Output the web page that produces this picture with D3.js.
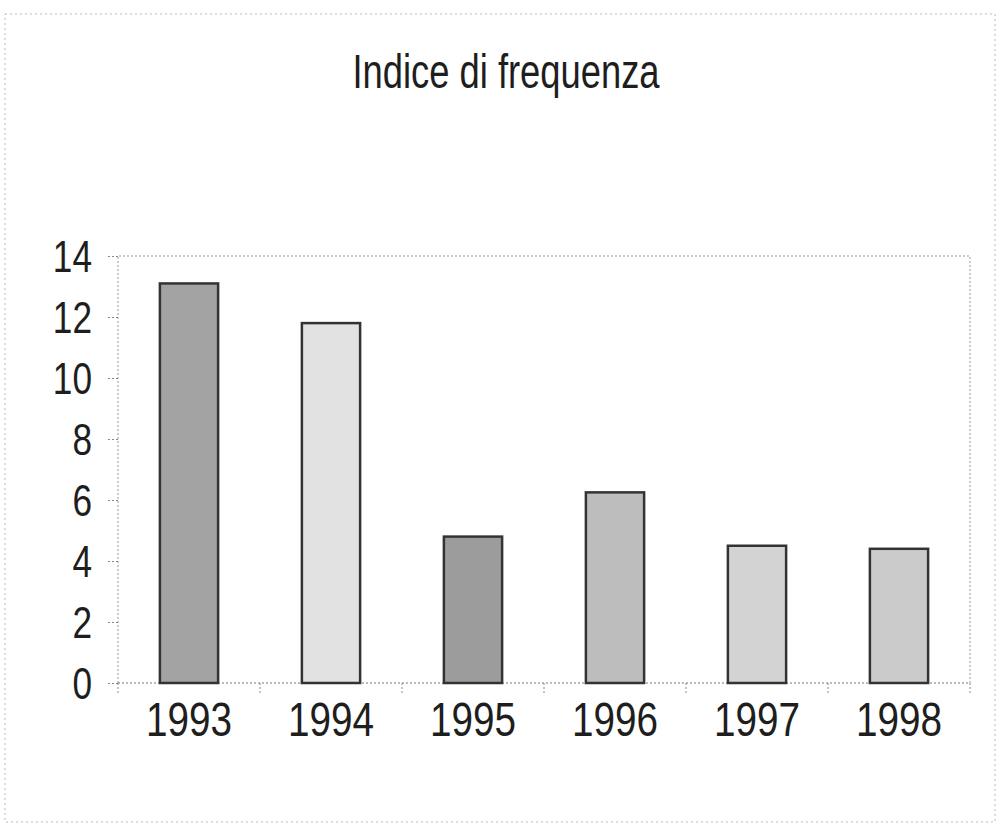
<!DOCTYPE html>
<html>
<head>
<meta charset="utf-8">
<script src="https://cdn.jsdelivr.net/npm/d3@7"></script>
<style>
  body { margin: 0; background: #fff; }
  svg { display: block; }
  text { font-family: "Liberation Sans", Arial, sans-serif; fill: #1e1e1e; }
</style>
</head>
<body>
<div id="chart"></div>
<script>
// dati
const anni = ["1993", "1994", "1995", "1996", "1997", "1998"];
const valori = [13.1, 11.8, 4.8, 6.25, 4.5, 4.4];
const grigi = ["#a3a3a3", "#e2e2e2", "#9c9c9c", "#bdbdbd", "#d3d3d3", "#cbcbcb"];
const tickY = [0, 2, 4, 6, 8, 10, 12, 14];
const titolo = "Indice di frequenza";

const width = 1000, height = 826;
const margin = { top: 256, right: 30, bottom: 143, left: 118 };

const svg = d3.select("#chart").append("svg")
    .attr("width", width)
    .attr("height", height);

// cornice esterna tratteggiata (bordo della scansione)
svg.append("rect")
    .attr("x", 5).attr("y", 14)
    .attr("width", 990).attr("height", 808)
    .attr("fill", "none")
    .attr("stroke", "#bbb")
    .attr("stroke-width", 1)
    .attr("stroke-dasharray", "2,3");

const x = d3.scaleBand()
    .domain(anni)
    .range([margin.left, width - margin.right])
    .paddingInner(0.59)
    .paddingOuter(0.295);

const y = d3.scaleLinear()
    .domain([0, 14])
    .range([height - margin.bottom, margin.top]);

// titolo
svg.append("text")
    .attr("x", 506)
    .attr("y", 88)
    .attr("text-anchor", "middle")
    .attr("font-size", 48)
    .attr("textLength", 307)
    .attr("lengthAdjust", "spacingAndGlyphs")
    .text(titolo);

// area del grafico, bordo puntinato
const g = svg.append("g");
g.append("path")
    .attr("d", `M${margin.left},${y(0)}V${y(14)}H${width - margin.right}V${y(0)}`)
    .attr("fill", "none")
    .attr("stroke", "#999")
    .attr("stroke-width", 1)
    .attr("stroke-dasharray", "2,2");

// asse y
const assey = d3.axisLeft(y).tickValues(tickY).tickSize(10).tickPadding(16);
const gy = svg.append("g")
    .attr("transform", `translate(${margin.left},0)`)
    .call(assey);
gy.select(".domain").remove();
gy.selectAll(".tick line").attr("stroke", "#888").attr("stroke-dasharray", "2,2");
gy.selectAll(".tick text")
    .attr("font-size", 44)
    .attr("fill", "#1e1e1e")
    .attr("font-family", "Liberation Sans, Arial, sans-serif")
    .attr("dy", "0.36em")
    .attr("transform", function(d) {
        // caratteri compressi in orizzontale come nell'originale
        const xx = -26;
        return `translate(${xx},${y(d)}) scale(0.8,1) translate(${-xx},${-y(d)})`;
    });

// asse x con tacche tra le categorie
svg.append("line")
    .attr("x1", margin.left).attr("x2", width - margin.right)
    .attr("y1", y(0)).attr("y2", y(0))
    .attr("stroke", "#777")
    .attr("stroke-dasharray", "2,2");

const confini = anni.map((a, i) => x(a) - x.step() * x.paddingInner() / 2);
confini.push(width - margin.right);
confini[0] = margin.left;
svg.selectAll(".tacca")
    .data(confini)
    .enter().append("line")
    .attr("class", "tacca")
    .attr("x1", d => d).attr("x2", d => d)
    .attr("y1", y(0)).attr("y2", y(0) + 10)
    .attr("stroke", "#888")
    .attr("stroke-dasharray", "2,2");

svg.selectAll(".etichetta")
    .data(anni)
    .enter().append("text")
    .attr("class", "etichetta")
    .attr("x", d => x(d) + x.bandwidth() / 2)
    .attr("y", 736)
    .attr("text-anchor", "middle")
    .attr("font-size", 48)
    .attr("textLength", 86)
    .attr("lengthAdjust", "spacingAndGlyphs")
    .text(d => d);

// barre
svg.selectAll(".barra")
    .data(anni)
    .enter().append("rect")
    .attr("class", "barra")
    .attr("x", d => x(d))
    .attr("width", x.bandwidth())
    .attr("y", (d, i) => y(valori[i]))
    .attr("height", (d, i) => y(0) - y(valori[i]))
    .attr("fill", (d, i) => grigi[i])
    .attr("stroke", "#333")
    .attr("stroke-width", 2.5);
</script>
</body>
</html>
